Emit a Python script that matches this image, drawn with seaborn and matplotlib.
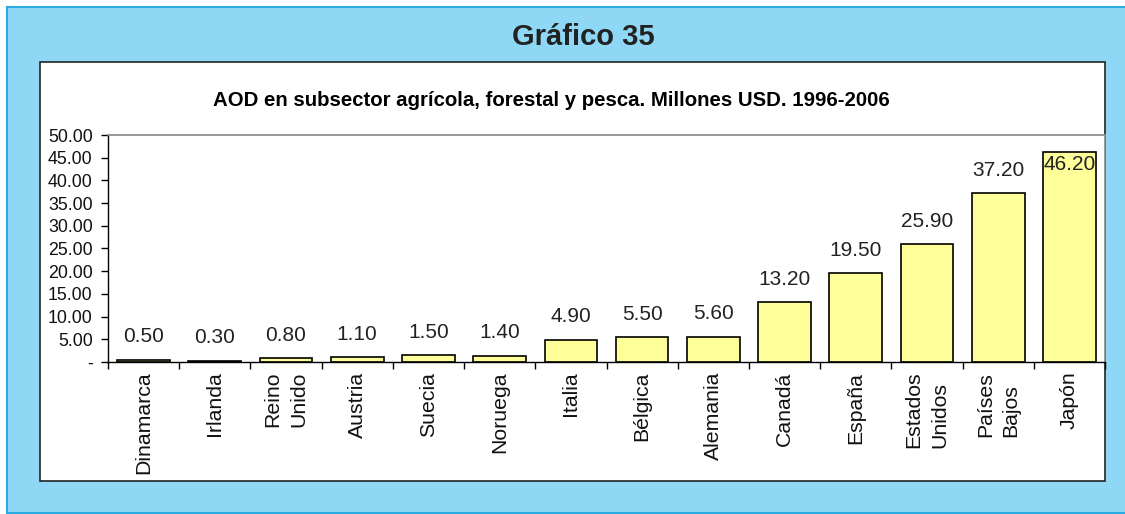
import matplotlib
matplotlib.use("Agg")
import matplotlib.pyplot as plt
import seaborn as sns
import pandas as pd
from matplotlib.patches import Rectangle

paises = ["Dinamarca", "Irlanda", "Reino\nUnido", "Austria", "Suecia", "Noruega",
          "Italia", "Bélgica", "Alemania", "Canadá", "España", "Estados\nUnidos",
          "Países\nBajos", "Japón"]
valores = [0.50, 0.30, 0.80, 1.10, 1.50, 1.40, 4.90, 5.50, 5.60, 13.20, 19.50, 25.90, 37.20, 46.20]
yticks = [0, 5, 10, 15, 20, 25, 30, 35, 40, 45, 50]
ytick_labels = ["-", "5.00", "10.00", "15.00", "20.00", "25.00", "30.00", "35.00", "40.00", "45.00", "50.00"]

sns.set_theme(style="white")
plt.rcParams['font.family'] = ['Liberation Sans', 'DejaVu Sans']

W, H = 1125, 514
fig = plt.figure(figsize=(W / 100, H / 100), dpi=100)
fig.patch.set_facecolor("white")

def fx(x):
    return x / W

def fy(y):
    return 1 - y / H

# outer light blue panel
fig.patches.append(Rectangle((fx(7), fy(513)), fx(1130) - fx(7), fy(7) - fy(513),
                             transform=fig.transFigure, facecolor="#8ED8F6",
                             edgecolor="#29ABE2", linewidth=1.5, zorder=0))
# inner white box
fig.patches.append(Rectangle((fx(40), fy(481)), fx(1105) - fx(40), fy(62) - fy(481),
                             transform=fig.transFigure, facecolor="white",
                             edgecolor="#222222", linewidth=1.2, zorder=1))

fig.text(fx(583), fy(37), "Gráfico 35", ha="center", va="center",
         fontsize=21, fontweight="bold", color="#222222")
fig.text(fx(551), fy(101), "AOD en subsector agrícola, forestal y pesca. Millones USD. 1996-2006",
         ha="center", va="center", fontsize=14.7, fontweight="bold", color="black")

ax = fig.add_axes([fx(108), fy(362), fx(1105) - fx(108), fy(135) - fy(362)])
ax.set_facecolor("white")
ax.set_zorder(2)

df = pd.DataFrame({"pais": paises, "valor": valores})
sns.barplot(data=df, x="pais", y="valor", color="#FFFF99", edgecolor="black",
            linewidth=1.2, width=0.74, saturation=1, ax=ax)

ax.set_xlim(-0.5, len(paises) - 0.5)
ax.set_ylim(0, 50)
ax.set_yticks(yticks)
ax.set_yticklabels(ytick_labels, fontsize=12.8, color="#111111")
ax.set_xlabel("")
ax.set_ylabel("")

# x ticks between categories
ax.set_xticks([i - 0.5 for i in range(len(paises) + 1)], minor=False)
ax.set_xticklabels([])
ax.set_xticks(range(len(paises)), minor=True)
ax.set_xticklabels(paises, minor=True, rotation=90, fontsize=15.3, ha="center", va="top",
                   multialignment="left", linespacing=1.45, color="#111111")
ax.tick_params(axis="x", which="minor", length=0, pad=7)
ax.tick_params(axis="x", which="major", direction="out", length=5, width=1, color="black", bottom=True)
ax.tick_params(axis="y", direction="out", length=5, width=1, color="black", left=True, pad=6)

for s in ["left", "bottom"]:
    ax.spines[s].set_color("black")
    ax.spines[s].set_linewidth(1)
for s in ["top", "right"]:
    ax.spines[s].set_color("#888888")
    ax.spines[s].set_linewidth(1.2)

for i, v in enumerate(valores):
    if v > 44:
        ax.annotate(f"{v:.2f}", xy=(i, v), xytext=(0, -2), textcoords="offset points",
                    ha="center", va="top", fontsize=15, color="#222222")
    else:
        ax.annotate(f"{v:.2f}", xy=(i, v), xytext=(0, 16.5), textcoords="offset points",
                    ha="center", va="center", fontsize=15, color="#222222")

fig.savefig("out.png", dpi=100)
